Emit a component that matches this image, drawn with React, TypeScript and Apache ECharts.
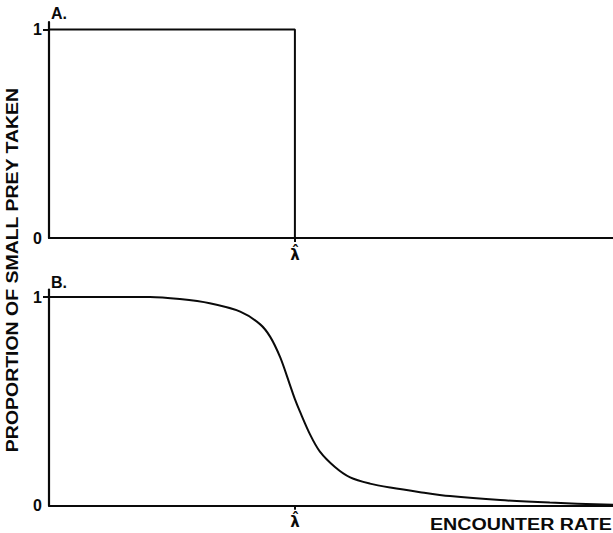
import React, { useEffect, useRef } from "react";
import * as echarts from "echarts";

// Encounter-rate axis runs 0..10; λ̂ marks the switching threshold.
const X_MAX = 10;
const Y_MAX = 1.036;
const LAMBDA_HAT = 4.36;
const Y_TICK_LABELS = [0, 1];
const Y_TICK_MARKS = [1];

// A. step rule: take all small prey below λ̂, none above.
const stepX = [0, LAMBDA_HAT, LAMBDA_HAT];
const stepY = [1, 1, 0];

// B. gradual (sigmoid) response around λ̂.
const curveX = [0, 0.9, 1.79, 2.32, 2.85, 3.39, 3.74, 3.92, 4.1, 4.27, 4.36, 4.45, 4.63, 4.8, 5.07, 5.34, 5.69, 6.05, 6.58, 7.11, 8.0, 8.88, 10];
const curveY = [1.0, 1.0, 1.0, 0.99, 0.97, 0.93, 0.87, 0.81, 0.71, 0.58, 0.51, 0.45, 0.34, 0.26, 0.185, 0.135, 0.105, 0.086, 0.064, 0.045, 0.026, 0.014, 0.003];

const Y_LABEL = "PROPORTION OF SMALL PREY TAKEN";
const X_LABEL = "ENCOUNTER RATE";
const LAMBDA_TEXT = "\u03BB\u0302";

const FONT = '"Liberation Sans", Arial, Helvetica, sans-serif';
const GREEK_FONT = '"DejaVu Sans", sans-serif';
const INK = "#0a0a0a";

function measure(text: string, size: number): number {
  const ctx = document.createElement("canvas").getContext("2d");
  if (!ctx) return text.length * size * 0.7;
  ctx.font = `bold ${size}px "Liberation Sans"`;
  return ctx.measureText(text).width;
}

function xAxes(gridIndex: number) {
  const base = {
    type: "value" as const,
    gridIndex,
    min: 0,
    max: X_MAX,
    splitLine: { show: false },
  };
  return [
    {
      ...base,
      axisLine: { show: true, lineStyle: { color: INK, width: 2.2 } },
      axisTick: { show: true, customValues: [LAMBDA_HAT], length: 4, lineStyle: { color: INK, width: 1.8 } },
      axisLabel: {
        show: true,
        customValues: [LAMBDA_HAT],
        formatter: () => LAMBDA_TEXT,
        color: INK,
        fontFamily: GREEK_FONT,
        fontWeight: "bold",
        fontSize: 15,
        margin: 9,
      },
    },
    {
      ...base,
      axisLine: { show: false },
      axisTick: { show: true, inside: true, customValues: [LAMBDA_HAT], length: 4, lineStyle: { color: INK, width: 1.8 } },
      axisLabel: { show: false },
    },
  ];
}

function yAxes(gridIndex: number) {
  const base = {
    type: "value" as const,
    gridIndex,
    min: 0,
    max: Y_MAX,
    splitLine: { show: false },
  };
  return [
    {
      ...base,
      axisLine: { show: true, lineStyle: { color: INK, width: 2.2 } },
      axisTick: { show: true, customValues: Y_TICK_MARKS, length: 6, lineStyle: { color: INK, width: 1.8 } },
      axisLabel: {
        show: true,
        customValues: Y_TICK_LABELS,
        color: INK,
        fontFamily: FONT,
        fontWeight: "bold",
        fontSize: 16,
        margin: 7,
      },
    },
    {
      ...base,
      axisLine: { show: false },
      axisTick: { show: true, inside: true, customValues: Y_TICK_MARKS, length: 6, lineStyle: { color: INK, width: 1.8 } },
      axisLabel: { show: false },
    },
  ];
}

export default function App() {
  const ref = useRef<HTMLDivElement>(null);

  useEffect(() => {
    document.body.style.margin = "0";
    if (!ref.current) return;
    const chart = echarts.init(ref.current, null, { renderer: "svg" });

    const yLabelScale = 365 / measure(Y_LABEL, 17);
    const xLabelScale = 182 / measure(X_LABEL, 17);

    chart.setOption({
      animation: false,
      backgroundColor: "#ffffff",
      grid: [
        { left: 49, right: 0, top: 22, height: 216 },
        { left: 49, right: 0, top: 289.5, height: 216 },
      ],
      xAxis: [...xAxes(0), ...xAxes(1)],
      yAxis: [...yAxes(0), ...yAxes(1)],
      series: [
        {
          type: "line",
          xAxisIndex: 0,
          yAxisIndex: 0,
          data: stepX.map((x, i) => [x, stepY[i]]),
          symbol: "none",
          lineStyle: { color: INK, width: 2 },
        },
        {
          type: "line",
          xAxisIndex: 2,
          yAxisIndex: 2,
          data: curveX.map((x, i) => [x, curveY[i]]),
          symbol: "none",
          smooth: 0.3,
          lineStyle: { color: INK, width: 2 },
        },
      ],
      graphic: [
        {
          type: "text",
          x: 51,
          y: 13,
          style: { text: "A.", fontFamily: FONT, fontWeight: "bold", fontSize: 16, fill: INK, align: "left", verticalAlign: "middle" },
        },
        {
          type: "text",
          x: 51,
          y: 282,
          style: { text: "B.", fontFamily: FONT, fontWeight: "bold", fontSize: 16, fill: INK, align: "left", verticalAlign: "middle" },
        },
        {
          type: "text",
          x: 12,
          y: 270,
          rotation: Math.PI / 2,
          scaleX: yLabelScale,
          style: { text: Y_LABEL, fontFamily: FONT, fontWeight: "bold", fontSize: 17, fill: INK, align: "center", verticalAlign: "middle" },
        },
        {
          type: "text",
          x: 430,
          y: 524,
          scaleX: xLabelScale,
          style: { text: X_LABEL, fontFamily: FONT, fontWeight: "bold", fontSize: 17, fill: INK, align: "left", verticalAlign: "middle" },
        },
      ],
    });

    return () => chart.dispose();
  }, []);

  return <div ref={ref} style={{ width: 613, height: 533 }} />;
}
